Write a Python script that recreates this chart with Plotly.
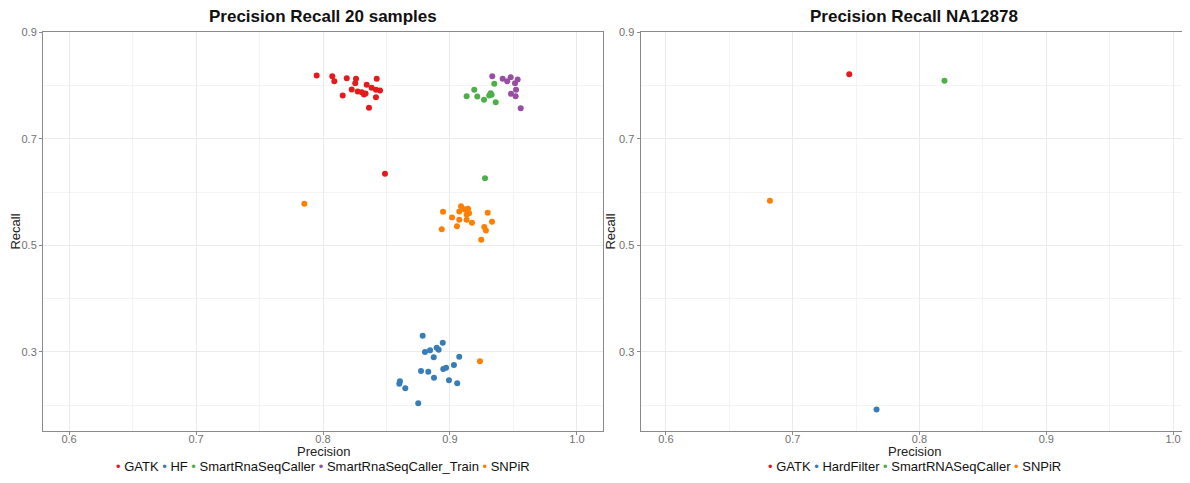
import plotly.graph_objects as go

# ---------------- data: left panel (20 samples) ----------------
gatk_x = [0.7950, 0.8073, 0.8089, 0.8187, 0.8260, 0.8254, 0.8226, 0.8155, 0.8273, 0.8305,
          0.8323, 0.8344, 0.8383, 0.8423, 0.8417, 0.8449, 0.8417, 0.8362, 0.8488, 0.8335]
gatk_y = [0.8188, 0.8174, 0.8081, 0.8137, 0.8126, 0.8043, 0.7925, 0.7812, 0.7887, 0.7874,
          0.7831, 0.8013, 0.7957, 0.8126, 0.7919, 0.7906, 0.7780, 0.7582, 0.6343, 0.7850]

hf_x = [0.8785, 0.8803, 0.8843, 0.8895, 0.8911, 0.8943, 0.8872, 0.9073, 0.9031, 0.8969,
        0.8947, 0.8772, 0.8829, 0.8874, 0.8992, 0.9057, 0.8606, 0.8601, 0.8648, 0.8750]
hf_y = [0.3304, 0.2996, 0.3028, 0.3079, 0.3041, 0.3173, 0.2897, 0.2910, 0.2752, 0.2703,
        0.2677, 0.2640, 0.2628, 0.2516, 0.2465, 0.2409, 0.2447, 0.2403, 0.2315, 0.2034]

smart_x = [0.9349, 0.9191, 0.9131, 0.9215, 0.9268, 0.9320, 0.9309, 0.9328, 0.9360, 0.9276]
smart_y = [0.8032, 0.7919, 0.7799, 0.7794, 0.7732, 0.7856, 0.7812, 0.7826, 0.7687, 0.6261]

train_x = [0.9333, 0.9415, 0.9451, 0.9478, 0.9512, 0.9533, 0.9520, 0.9480, 0.9517, 0.9557]
train_y = [0.8174, 0.8126, 0.8081, 0.8156, 0.8043, 0.8113, 0.7919, 0.7844, 0.7799, 0.7574]

snpir_x = [0.7853, 0.8945, 0.9016, 0.8935, 0.9055, 0.9073, 0.9073, 0.9087, 0.9113, 0.9142,
           0.9131, 0.9150, 0.9131, 0.9173, 0.9297, 0.9331, 0.9270, 0.9283, 0.9246, 0.9236]
snpir_y = [0.5780, 0.5630, 0.5523, 0.5304, 0.5360, 0.5480, 0.5636, 0.5735, 0.5679, 0.5687,
           0.5580, 0.5604, 0.5480, 0.5424, 0.5612, 0.5443, 0.5342, 0.5280, 0.5105, 0.2822]

left_names = ["GATK", "HF", "SmartRnaSeqCaller", "SmartRnaSeqCaller_Train", "SNPiR"]
left_colors = ["#E41A1C", "#377EB8", "#4DAF4A", "#984EA3", "#FF7F00"]
left_x = [gatk_x, hf_x, smart_x, train_x, snpir_x]
left_y = [gatk_y, hf_y, smart_y, train_y, snpir_y]

# ---------------- data: right panel (NA12878) ----------------
right_names = ["GATK", "HardFilter", "SmartRNASeqCaller", "SNPiR"]
right_colors = ["#E41A1C", "#377EB8", "#4DAF4A", "#FF7F00"]
right_prec = [0.7446, 0.7661, 0.8197, 0.6820]
right_rec = [0.8212, 0.1916, 0.8088, 0.5837]

x_ticks = [0.6, 0.7, 0.8, 0.9, 1.0]
x_labels = ["0.6", "0.7", "0.8", "0.9", "1.0"]
y_ticks = [0.3, 0.5, 0.7, 0.9]
y_labels = ["0.3", "0.5", "0.7", "0.9"]

titles = ["Precision Recall 20 samples", "Precision Recall NA12878"]
x_title = "Precision"
y_title = "Recall"

FONT = "Liberation Sans, Arial, Helvetica, sans-serif"

fig = go.Figure()
for n, c, xs, ys in zip(left_names, left_colors, left_x, left_y):
    fig.add_trace(go.Scatter(x=xs, y=ys, mode="markers", name=n, showlegend=False,
                             marker=dict(color=c, size=6, line=dict(width=0)),
                             xaxis="x", yaxis="y"))
for n, c, px, py in zip(right_names, right_colors, right_prec, right_rec):
    fig.add_trace(go.Scatter(x=[px], y=[py], mode="markers", name=n, showlegend=False,
                             marker=dict(color=c, size=6, line=dict(width=0)),
                             xaxis="x2", yaxis="y2"))

# page has an 8px body margin: figure coordinates = page coordinates - 8
W, H = 1182, 467
ml, mr, mt = 35, 0, 24
plot_bottom = 422.7
mb = H - plot_bottom
pw = W - ml - mr
ph = H - mt - mb
d1 = [0, 560 / pw]
d2 = [597.5 / pw, 1 - 2 / pw]

axis_common = dict(
    showline=True, linecolor="#8a8a8a", linewidth=1, mirror=True,
    showgrid=True, gridcolor="#ebebeb", gridwidth=1,
    zeroline=False, ticks="outside", ticklen=3, tickcolor="#8a8a8a",
    tickfont=dict(family=FONT, size=11, color="#707070"),
)
xa = dict(axis_common, range=[0.5795, 1.0205], tickvals=x_ticks, ticktext=x_labels,
          ticklabelstandoff=-5,
          minor=dict(showgrid=True, gridcolor="#f4f4f4", dtick=0.05, tick0=0.55))
ya = dict(axis_common, range=[0.1514, 0.9005], tickvals=y_ticks, ticktext=y_labels,
          minor=dict(showgrid=True, gridcolor="#f4f4f4", dtick=0.1, tick0=0.2),
          title=dict(text=y_title, font=dict(family=FONT, size=13, color="#222"), standoff=0))

fig.update_layout(
    width=W, height=H,
    margin=dict(l=ml, r=mr, t=mt, b=mb),
    paper_bgcolor="white", plot_bgcolor="white",
    font=dict(family=FONT),
    xaxis=dict(xa, domain=d1, anchor="y"),
    yaxis=dict(ya, domain=[0, 1], anchor="x"),
    xaxis2=dict(xa, domain=d2, anchor="y2", range=[0.5799, 1.0118]),
    yaxis2=dict(ya, domain=[0, 1], anchor="x2"),
    showlegend=False,
)

def py_paper(page_y):
    # convert a page y pixel to paper coordinates
    fy = page_y - 8
    return (H - mb - fy) / ph

# panel titles and x-axis titles
for t, d in zip(titles, [d1, d2]):
    cx = (d[0] + d[1]) / 2
    fig.add_annotation(text="<b>" + t + "</b>", xref="paper", yref="paper",
                       x=cx, y=py_paper(17), xanchor="center", yanchor="middle",
                       showarrow=False, font=dict(family=FONT, size=17, color="#111"))
    fig.add_annotation(text=x_title, xref="paper", yref="paper",
                       x=cx, y=py_paper(451), xanchor="center", yanchor="middle",
                       showarrow=False, font=dict(family=FONT, size=13, color="#222"))

# legends drawn below each panel
def legend_text(names, colors):
    parts = []
    for n, c in zip(names, colors):
        parts.append("<span style='color:%s'>\u2022</span> %s" % (c, n))
    return " ".join(parts)

for names, colors, d in [(left_names, left_colors, d1), (right_names, right_colors, d2)]:
    cx = (d[0] + d[1]) / 2
    fig.add_annotation(text=legend_text(names, colors), xref="paper", yref="paper",
                       x=cx, y=py_paper(466), xanchor="center", yanchor="middle",
                       showarrow=False, font=dict(family=FONT, size=13, color="#111"))

fig.write_html("out.html")
